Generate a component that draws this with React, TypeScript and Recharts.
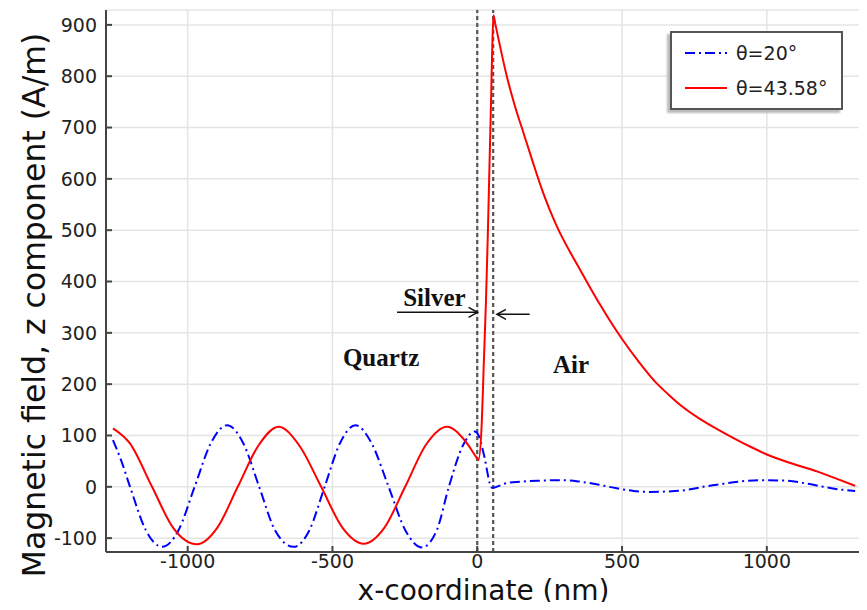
import React from "react";
import {
  CartesianGrid,
  Legend,
  Line,
  LineChart,
  ReferenceDot,
  ReferenceLine,
  XAxis,
  YAxis,
} from "recharts";

// x positions (nm) and field values (A/m)
const blueX = [
  -1258, -1230, -1199, -1144, -1088, -1032, -976, -920, -864, -808, -753, -698,
  -634, -580, -527, -474, -421, -365, -306, -248, -191, -140, -98, -50, -8, 5,
  22, 51, 100, 148, 220, 298, 356, 420, 482, 540, 597, 660, 724, 780, 827, 900,
  977, 1069, 1140, 1195, 1250, 1305,
];
const blueY = [
  91, 52, 0, -85, -117, -85, 0, 85, 120, 85, 0, -85, -117, -85, 0, 85, 120, 85,
  0, -85, -118, -85, 0, 80, 108, 100, 65, -2, 7, 10, 12, 13, 10, 4, -3, -8, -10,
  -9, -6, 0, 4, 10, 13, 12, 6, 0, -5, -8,
];

const redX = [
  -1258, -1200, -1123, -1050, -968, -898, -827, -756, -686, -614, -539, -465,
  -392, -321, -249, -177, -105, -36, 0, 4, 16, 22, 30, 36, 42, 48, 52, 56, 62,
  102, 130, 160, 190, 223, 250, 281, 320, 356, 390, 424, 460, 500, 560, 614,
  660, 700, 770, 830, 885, 940, 1000, 1100, 1173, 1240, 1305,
];
const redY = [
  114, 85, 0, -80, -112, -80, 0, 80, 117, 80, 0, -80, -111, -80, 0, 82, 117, 85,
  55, 52, 130, 230, 360, 480, 620, 760, 860, 919, 903, 800, 742, 689, 636, 580,
  540, 500, 458, 422, 388, 355, 322, 288, 242, 205, 180, 160, 132, 112, 95, 79,
  63, 43, 30, 16, 2,
];

const seriesNames = ["θ=20°", "θ=43.58°"];
const seriesColors = ["#0000ff", "#ff0000"];
const seriesDash = ["10 4 2 4", undefined];

const xTicks = [-1000, -500, 0, 500, 1000];
const yTicks = [-100, 0, 100, 200, 300, 400, 500, 600, 700, 800, 900];
const xDomain: [number, number] = [-1282, 1339];
const yDomain: [number, number] = [-127, 929];

// silver layer boundaries (nm)
const silverEdges = [0, 55];

const blueData = blueX.map((x, i) => ({ x, y: blueY[i] }));
const redData = redX.map((x, i) => ({ x, y: redY[i] }));

const sansFont = "DejaVu Sans";
const serifFont = "Liberation Serif";
const axisColor = "#444";

const Arrow = (props: any) => {
  const { x1, y1, x2, y2 } = props;
  const dir = x2 > x1 ? 1 : -1;
  return (
    <g>
      <line x1={x1} y1={y1} x2={x2} y2={y2} stroke="#111" strokeWidth={1.5} />
      <path
        d={`M${x2 - dir * 9},${y2 - 5} L${x2},${y2} L${x2 - dir * 9},${y2 + 5}`}
        fill="none"
        stroke="#111"
        strokeWidth={1.5}
      />
    </g>
  );
};

const regionLabel = (text: string) => (props: any) => {
  const { viewBox } = props;
  return (
    <text
      x={viewBox.x + viewBox.width / 2}
      y={viewBox.y + viewBox.height / 2}
      textAnchor="middle"
      fontFamily={serifFont}
      fontWeight="bold"
      fontSize={25}
      fill="#111"
    >
      {text}
    </text>
  );
};

const LegendBox = () => (
  <div
    style={{
      width: 169,
      height: 75,
      border: "2px solid #555",
      background: "#fff",
      boxShadow: "-3px 3px 2px #bbb",
      position: "relative",
    }}
  >
    {seriesNames.map((name, i) => (
      <div
        key={name}
        style={{
          position: "absolute",
          left: 13,
          top: 5 + i * 35,
          height: 30,
          display: "flex",
          alignItems: "center",
        }}
      >
        <svg width={42} height={10}>
          <line
            x1={0}
            y1={5}
            x2={42}
            y2={5}
            stroke={seriesColors[i]}
            strokeWidth={2}
            strokeDasharray={seriesDash[i]}
          />
        </svg>
        <span
          style={{
            marginLeft: 9,
            fontFamily: sansFont,
            fontSize: 19,
            color: "#222",
          }}
        >
          {name}
        </span>
      </div>
    ))}
  </div>
);

export default function App() {
  return (
    <div style={{ position: "relative", width: 867, height: 610, margin: -8 }}>
      <LineChart
        width={867}
        height={610}
        margin={{ top: 10, right: 2, bottom: 0, left: 0 }}
      >
        <CartesianGrid stroke="#e4e4e4" strokeWidth={1.5} />
        <XAxis
          type="number"
          dataKey="x"
          domain={xDomain}
          ticks={xTicks}
          allowDataOverflow
          height={58}
          stroke={axisColor}
          strokeWidth={2}
          tickSize={-6}
          tickMargin={9}
          tick={{ fontSize: 19, fill: "#222", fontFamily: sansFont }}
          label={{
            content: (props: any) => {
              const vb = props.viewBox;
              return (
                <text
                  x={vb.x + vb.width / 2 - 2}
                  y={vb.y + 48}
                  textAnchor="middle"
                  fontFamily={sansFont}
                  fontSize={28}
                  fill="#111"
                >
                  x-coordinate (nm)
                </text>
              );
            },
          }}
        />
        <XAxis
          xAxisId="top"
          orientation="top"
          type="number"
          domain={xDomain}
          ticks={xTicks}
          allowDataOverflow
          height={0}
          stroke={axisColor}
          strokeWidth={2}
          tickSize={-6}
          tick={false}
        />
        <YAxis
          type="number"
          domain={yDomain}
          ticks={yTicks}
          allowDataOverflow
          width={106}
          stroke={axisColor}
          strokeWidth={2}
          tickSize={-6}
          tickMargin={15}
          tick={{ fontSize: 19, fill: "#222", fontFamily: sansFont }}
          label={{
            content: (props: any) => {
              const vb = props.viewBox;
              const cx = vb.x + 34;
              const cy = vb.y + vb.height / 2 + 24;
              return (
                <text
                  x={cx}
                  y={cy}
                  transform={`rotate(-90, ${cx}, ${cy})`}
                  textAnchor="middle"
                  dominantBaseline="central"
                  fontFamily={sansFont}
                  fontSize={31.5}
                  fill="#111"
                >
                  Magnetic field, z component (A/m)
                </text>
              );
            },
          }}
        />
        <YAxis
          yAxisId="right"
          orientation="right"
          type="number"
          domain={yDomain}
          ticks={yTicks}
          allowDataOverflow
          width={0}
          stroke={axisColor}
          strokeWidth={2}
          tickSize={-6}
          tick={false}
        />
        {silverEdges.map((x) => (
          <ReferenceLine
            key={x}
            x={x}
            stroke="#555"
            strokeWidth={2.2}
            strokeDasharray="4 3"
          />
        ))}
        <Line
          data={blueData}
          dataKey="y"
          name={seriesNames[0]}
          type="monotone"
          stroke={seriesColors[0]}
          strokeWidth={2}
          strokeDasharray={seriesDash[0]}
          dot={false}
          isAnimationActive={false}
        />
        <Line
          data={redData}
          dataKey="y"
          name={seriesNames[1]}
          type="monotone"
          stroke={seriesColors[1]}
          strokeWidth={2}
          dot={false}
          isAnimationActive={false}
        />
        <ReferenceLine
          segment={[
            { x: -277, y: 340 },
            { x: 1, y: 340 },
          ]}
          shape={Arrow}
        />
        <ReferenceLine
          segment={[
            { x: 181, y: 336 },
            { x: 68, y: 336 },
          ]}
          shape={Arrow}
        />
        <ReferenceDot
          x={-148}
          y={352}
          r={1}
          fill="none"
          stroke="none"
          label={{ content: regionLabel("Silver") }}
        />
        <ReferenceDot
          x={-332}
          y={235}
          r={1}
          fill="none"
          stroke="none"
          label={{ content: regionLabel("Quartz") }}
        />
        <ReferenceDot
          x={324}
          y={222}
          r={1}
          fill="none"
          stroke="none"
          label={{ content: regionLabel("Air") }}
        />
        <Legend
          layout="horizontal"
          verticalAlign="middle"
          align="center"
          wrapperStyle={{ left: 670, top: 31, width: "auto", height: "auto" }}
          content={() => <LegendBox />}
        />
      </LineChart>
    </div>
  );
}
